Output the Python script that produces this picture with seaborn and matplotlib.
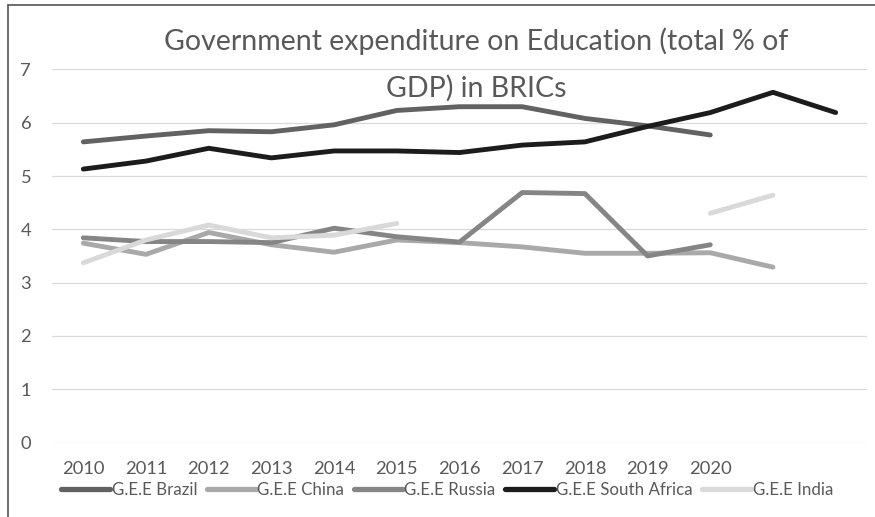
import numpy as np
import pandas as pd
import matplotlib
matplotlib.use("Agg")
import matplotlib.pyplot as plt
from matplotlib.lines import Line2D
import seaborn as sns

# Year labels (the last two positions carry no label)
years = ["2010", "2011", "2012", "2013", "2014", "2015", "2016",
         "2017", "2018", "2019", "2020", "", ""]

nan = np.nan
brazil = [5.64, 5.75, 5.85, 5.83, 5.96, 6.23, 6.30, 6.30, 6.08, 5.94, 5.77, nan, nan]
china = [3.74, 3.53, 3.94, 3.71, 3.57, 3.80, 3.75, 3.67, 3.55, 3.55, 3.56, 3.29, nan]
russia = [3.84, 3.77, 3.77, 3.75, 4.02, 3.86, 3.76, 4.69, 4.67, 3.50, 3.71, nan, nan]
south_africa = [5.13, 5.28, 5.52, 5.34, 5.47, 5.47, 5.44, 5.58, 5.64, 5.93, 6.19, 6.57, 6.19]
india = [3.37, 3.80, 4.08, 3.84, 3.89, 4.11, nan, nan, nan, nan, 4.30, 4.64, nan]

series_names = ["G.E.E Brazil", "G.E.E China", "G.E.E Russia",
                "G.E.E South Africa", "G.E.E India"]
series_values = [brazil, china, russia, south_africa, india]
series_colors = ["#626262", "#a9a9a9", "#858585", "#1c1c1c", "#d9d9d9"]

# Long table; gaps split a series into separate segments so they stay unconnected
rows = []
for name, vals in zip(series_names, series_values):
    seg = 0
    prev_nan = False
    for i, v in enumerate(vals):
        if np.isnan(v):
            prev_nan = True
            continue
        if prev_nan:
            seg += 1
            prev_nan = False
        rows.append({"pos": i, "value": v, "series": name, "segment": f"{name}_{seg}"})
df = pd.DataFrame(rows)

sns.set_theme(style="white")
plt.rcParams["font.family"] = ["Lato", "DejaVu Sans"]

W, H = 875, 517
fig = plt.figure(figsize=(W / 100, H / 100), dpi=100)
ax = fig.add_axes([52 / W, (H - 442.5) / H, 815 / W, (442.5 - 69.4) / H])

for y in range(0, 8):
    ax.axhline(y, color="#d9d9d9", linewidth=0.9, zorder=0)

for name, color in zip(series_names, series_colors):
    sub = df[df["series"] == name]
    sns.lineplot(data=sub, x="pos", y="value", units="segment", estimator=None,
                 color=color, linewidth=3.5, ax=ax, legend=False, sort=True,
                 solid_capstyle="round", zorder=3)

ax.set_xlim(-0.5, len(years) - 0.5)
ax.set_ylim(0, 7)
ax.set_xticks(range(len(years)))
ax.set_xticklabels(years)
ax.set_yticks(range(0, 8))
ax.set_xlabel("")
ax.set_ylabel("")
for s in ax.spines.values():
    s.set_visible(False)
ax.tick_params(axis="both", length=0, labelsize=13.2, colors="#595959")
ax.tick_params(axis="x", pad=13.5)
ax.tick_params(axis="y", pad=15)
ax.grid(False)

# Title drawn over the plot area
fig.text(476 / W, 1 - 50 / H, "Government expenditure on Education (total % of",
         ha="center", va="baseline", fontsize=20.5, color="#595959")
fig.text(476 / W, 1 - 97 / H, "GDP) in BRICs",
         ha="center", va="baseline", fontsize=20.5, color="#595959")

handles = [Line2D([0], [0], color=c, linewidth=3.8) for c in series_colors]
fig.legend(handles, series_names, loc="center", bbox_to_anchor=(447 / W, 1 - 490 / H),
           ncol=5, frameon=False, fontsize=12.2, handlelength=2.9, handletextpad=0.1,
           columnspacing=0.55, labelcolor="#595959")

# Chart frame
fig.add_artist(Line2D([8 / W, 8 / W], [0, 1 - 5 / H], color="#555555", linewidth=1.2))
fig.add_artist(Line2D([8 / W, 1], [1 - 5 / H, 1 - 5 / H], color="#555555", linewidth=1.2))

fig.savefig("out.png", dpi=100)
